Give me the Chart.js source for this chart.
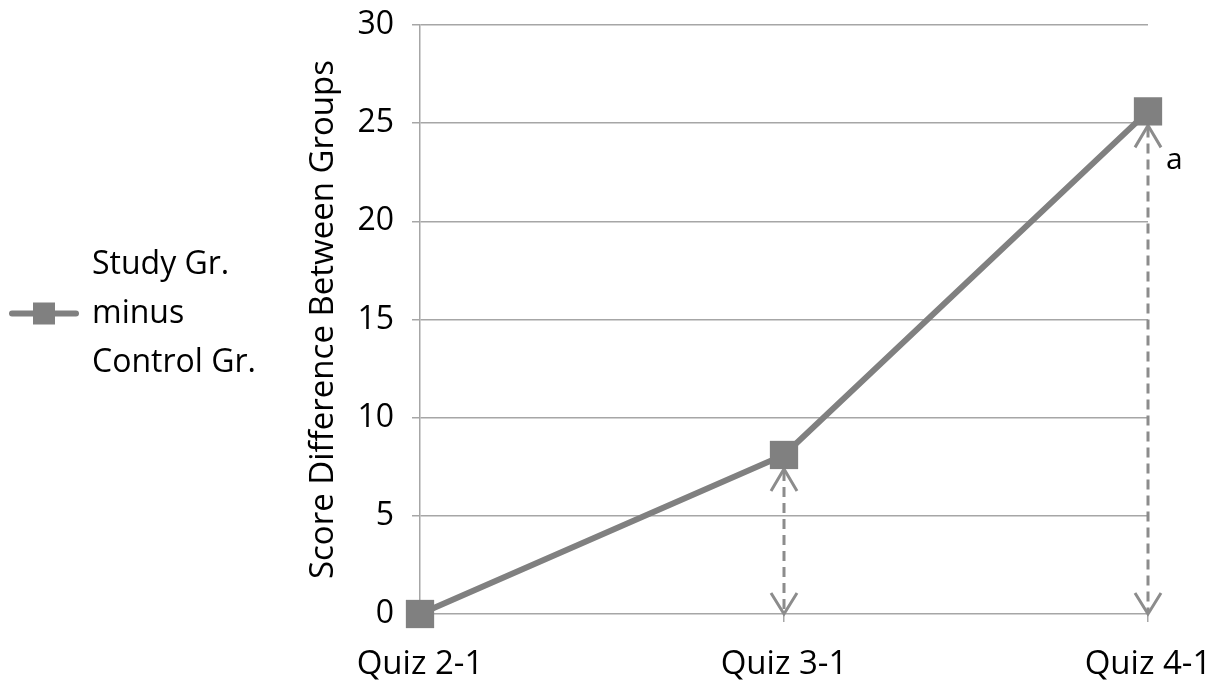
<!DOCTYPE html>
<html>
<head>
<meta charset="utf-8">
<script src="https://cdn.jsdelivr.net/npm/chart.js@4"></script>
<style>
  html, body { margin: 0; padding: 0; background: #fff; }
  #wrap { width: 1222px; height: 680px; }
</style>
</head>
<body>
<div id="wrap"><canvas id="chart"></canvas></div>
<script>
// data
const quizLabels = ['Quiz 2-1', 'Quiz 3-1', 'Quiz 4-1'];
const scoreDiff = [0, 8.1, 25.6];
const legendLines = ['Study Gr.', 'minus', 'Control Gr.'];
const arrowIdx = [1, 2];     // points that get a dashed double arrow down to 0
const noteText = 'a';        // note next to the last point

const FONT = '"Open Sans", "DejaVu Sans", sans-serif';
const GRID = '#a6a6a6';
const LINE = '#808080';

// dashed double-headed arrows from each marked point down to zero
const arrowsPlugin = {
  id: 'arrows',
  beforeDatasetsDraw(chart) {
    const ctx = chart.ctx;
    const xs = chart.scales.x, ys = chart.scales.y;
    ctx.save();
    ctx.strokeStyle = '#8c8c8c';
    ctx.lineWidth = 3;
    arrowIdx.forEach(i => {
      const x = xs.getPixelForValue(i);
      const top = ys.getPixelForValue(scoreDiff[i]) + 14;
      const bot = ys.getPixelForValue(0);
      ctx.setLineDash([10, 6]);
      ctx.beginPath();
      ctx.moveTo(x, top + 2);
      ctx.lineTo(x, bot - 2);
      ctx.stroke();
      ctx.setLineDash([]);
      ctx.beginPath();
      ctx.moveTo(x - 13, top + 22);
      ctx.lineTo(x, top);
      ctx.lineTo(x + 13, top + 22);
      ctx.moveTo(x - 13, bot - 21);
      ctx.lineTo(x, bot);
      ctx.lineTo(x + 13, bot - 21);
      ctx.stroke();
    });
    ctx.restore();
  },
  afterDatasetsDraw(chart) {
    const ctx = chart.ctx;
    const last = scoreDiff.length - 1;
    const x = chart.scales.x.getPixelForValue(last);
    const y = chart.scales.y.getPixelForValue(scoreDiff[last]);
    ctx.save();
    ctx.fillStyle = '#000';
    ctx.font = '30px ' + FONT;
    ctx.textBaseline = 'middle';
    ctx.fillText(noteText, x + 18, y + 49);
    ctx.restore();
  }
};

// legend on the left with wrapped label
const sideLegend = {
  id: 'sideLegend',
  afterDraw(chart) {
    const ctx = chart.ctx;
    const ds = chart.data.datasets[0];
    const cy = (chart.chartArea.top + chart.chartArea.bottom) / 2 - 6;
    ctx.save();
    ctx.strokeStyle = ds.borderColor;
    ctx.lineWidth = 6;
    ctx.lineCap = 'round';
    ctx.beginPath();
    ctx.moveTo(12, cy);
    ctx.lineTo(76, cy);
    ctx.stroke();
    ctx.fillStyle = ds.pointBackgroundColor;
    ctx.fillRect(33, cy - 11, 22, 22);
    ctx.fillStyle = '#000';
    ctx.font = '32px ' + FONT;
    ctx.textBaseline = 'middle';
    legendLines.forEach((t, k) => {
      ctx.fillText(t, 92, cy + (k - 1) * 49);
    });
    ctx.restore();
  }
};

new Chart(document.getElementById('chart'), {
  type: 'line',
  data: {
    labels: quizLabels,
    datasets: [{
      label: legendLines.join(' '),
      data: scoreDiff,
      borderColor: LINE,
      borderWidth: 6,
      pointStyle: 'rect',
      pointRadius: 20,
      pointHoverRadius: 20,
      pointBackgroundColor: LINE,
      pointBorderColor: LINE,
      pointBorderWidth: 0,
      tension: 0,
      clip: false
    }]
  },
  options: {
    responsive: true,
    maintainAspectRatio: false,
    animation: false,
    layout: { padding: { left: 300, right: 74, top: 25, bottom: 0 } },
    plugins: {
      legend: { display: false },
      tooltip: { enabled: false }
    },
    scales: {
      x: {
        offset: false,
        afterFit(scale) {
          scale.height = 66;
          scale.paddingLeft = 0;
          scale.paddingRight = 0;
        },
        grid: { drawOnChartArea: false, drawTicks: true, tickLength: 8, color: GRID, lineWidth: 1.5 },
        border: { display: false },
        ticks: { color: '#000', font: { family: FONT, size: 33 }, padding: 23, maxRotation: 0 }
      },
      y: {
        min: 0,
        max: 30,
        afterFit(scale) {
          scale.width = 120;
          scale.paddingTop = 0;
          scale.paddingBottom = 0;
        },
        ticks: { stepSize: 5, color: '#000', font: { family: FONT, size: 32 }, padding: 18 },
        grid: { color: GRID, lineWidth: 1.5, tickLength: 8 },
        border: { color: GRID, width: 1.5 },
        title: {
          display: true,
          text: 'Score Difference Between Groups',
          color: '#000',
          font: { family: FONT, size: 33 }
        }
      }
    }
  },
  plugins: [arrowsPlugin, sideLegend]
});
</script>
</body>
</html>
